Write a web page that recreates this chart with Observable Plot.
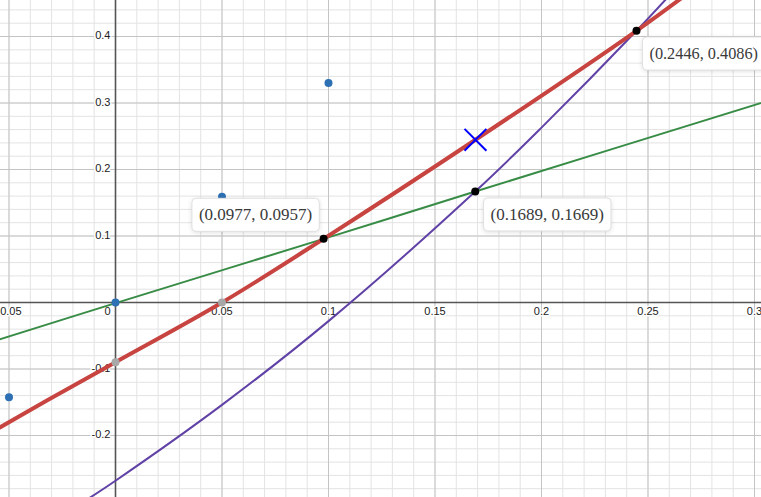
<!DOCTYPE html>
<html><head><meta charset="utf-8">
<script src="https://cdn.jsdelivr.net/npm/d3@7"></script>
<script src="https://cdn.jsdelivr.net/npm/@observablehq/plot@0.6"></script>
<style>
html,body{margin:0;padding:0;background:#fff;overflow:hidden;}
#chart svg{display:block;overflow:hidden !important;}
</style>
</head><body><div id="chart"></div>
<script>
// ---- tick labels ----
const xMajorTicks = [-0.05, 0.05, 0.1, 0.15, 0.2, 0.25, 0.3];
const xTickLabels = ["-0.05", "0.05", "0.1", "0.15", "0.2", "0.25", "0.3"];
const yMajorTicks = [-0.3, -0.2, -0.1, 0.1, 0.2, 0.3, 0.4];
const yTickLabels = ["-0.3", "-0.2", "-0.1", "0.1", "0.2", "0.3", "0.4"];
const originLabel = ["0"];
const xMinorTicks = d3.range(-6, 31).map(i => i / 100);
const yMinorTicks = d3.range(-15, 23).map(i => i / 50);

// ---- curves ----
const greenX = [-0.056, 0, 0.0977, 0.1689, 0.31];
const greenY = [-0.057, -0.001, 0.0957, 0.1669, 0.307];
const redX = [-0.056, -0.032, 0, 0.05, 0.0977, 0.169, 0.2446, 0.27];
const redY = [-0.191, -0.147, -0.0897, 0, 0.0957, 0.2447, 0.4086, 0.468];
const purpleX = [-0.015, 0, 0.05, 0.1, 0.1689, 0.2, 0.2446, 0.265];
const purpleY = [-0.2996, -0.268, -0.154, -0.028, 0.1669, 0.263, 0.4086, 0.479];

// ---- points ----
const blueX = [-0.05, 0, 0.05, 0.1];
const blueY = [-0.1425, 0, 0.159, 0.330];
const grayX = [0, 0.05];
const grayY = [-0.0897, 0];
const interX = [0.0977, 0.1689, 0.2446];
const interY = [0.0957, 0.1669, 0.4086];
const interLabels = ["(0.0977, 0.0957)", "(0.1689, 0.1669)", "(0.2446, 0.4086)"];
const markX = [0.169];
const markY = [0.2447];

const pts = (xs, ys) => xs.map((x, i) => ({x, y: ys[i]}));
const green = pts(greenX, greenY), red = pts(redX, redY), purple = pts(purpleX, purpleY);
const blue = pts(blueX, blueY), gray = pts(grayX, grayY), mark = pts(markX, markY);
const inter = interX.map((x, i) => ({x, y: interY[i], label: interLabels[i]}));
const xt = xMajorTicks.map((x, i) => ({x, label: xTickLabels[i]}));
const yt = yMajorTicks.map((y, i) => ({y, label: yTickLabels[i]}));

const labelFont = {fontFamily: "Liberation Serif, DejaVu Serif, serif", fontSize: 17, fill: "#3a3a3a"};
const tickFont = {fontFamily: "Liberation Sans, Arial, sans-serif", fontSize: 11, fill: "#222", stroke: "white", strokeWidth: 3, paintOrder: "stroke"};

const chart = Plot.plot({
  width: 761, height: 497,
  margin: 0,
  x: {domain: [-0.05399, 0.30329], axis: null},
  y: {domain: [-0.29323, 0.45414], axis: null},
  style: {background: "white"},
  marks: [
    Plot.ruleX(xMinorTicks, {stroke: "#e3e3e3", strokeWidth: 1}),
    Plot.ruleY(yMinorTicks, {stroke: "#e3e3e3", strokeWidth: 1}),
    Plot.ruleX(xMajorTicks, {stroke: "#c4c4c4", strokeWidth: 1}),
    Plot.ruleY(yMajorTicks, {stroke: "#c4c4c4", strokeWidth: 1}),
    Plot.ruleX([0], {stroke: "#555", strokeWidth: 1.6}),
    Plot.ruleY([0], {stroke: "#555", strokeWidth: 1.6}),
    Plot.text(xt, {x: "x", y: () => 0, text: "label", dy: 9, ...tickFont}),
    Plot.text(originLabel, {x: () => 0, y: () => 0, text: d => d, dx: -8, dy: 9, ...tickFont}),
    Plot.text(yt, {x: () => 0, y: "y", text: "label", dx: -5, dy: -1, textAnchor: "end", ...tickFont}),
    Plot.line(green, {x: "x", y: "y", stroke: "#388c46", strokeWidth: 2, curve: "catmull-rom"}),
    Plot.line(purple, {x: "x", y: "y", stroke: "#6042a6", strokeWidth: 2, curve: "catmull-rom"}),
    Plot.line(red, {x: "x", y: "y", stroke: "#c74440", strokeWidth: 4, curve: "catmull-rom"}),
    Plot.dot(blue, {x: "x", y: "y", r: 4, fill: "#2d70b3"}),
    Plot.dot(gray, {x: "x", y: "y", r: 4, fill: "#a8a8a8"}),
    Plot.dot(inter, {x: "x", y: "y", r: 4, fill: "#000"}),
    Plot.dot(mark, {x: "x", y: "y", symbol: "times", r: 10, stroke: "#0000ff", strokeWidth: 2}),
    Plot.text(inter.slice(0, 1), {x: "x", y: "y", text: "label", dx: -68, dy: -24, ...labelFont}),
    Plot.text(inter.slice(1, 2), {x: "x", y: "y", text: "label", dx: 72, dy: 23, ...labelFont}),
    Plot.text(inter.slice(2, 3), {x: "x", y: "y", text: "label", dx: 13, dy: 23, textAnchor: "start", ...labelFont, fontSize: 16.3})
  ]
});
document.getElementById("chart").appendChild(chart);

// white rounded boxes behind the coordinate labels
const labelSet = new Set(interLabels);
const texts = Array.from(chart.querySelectorAll("text")).filter(t => labelSet.has(t.textContent.trim()));
texts.forEach(t => {
  const bb = t.getBBox();
  const rect = document.createElementNS("http://www.w3.org/2000/svg", "rect");
  const tr = t.getAttribute("transform");
  if (tr) rect.setAttribute("transform", tr);
  rect.setAttribute("x", bb.x - 7);
  rect.setAttribute("y", bb.y - 7);
  rect.setAttribute("width", bb.width + 14);
  rect.setAttribute("height", bb.height + 14);
  rect.setAttribute("rx", 4);
  rect.setAttribute("fill", "white");
  rect.setAttribute("stroke", "#e0e0e0");
  rect.setAttribute("stroke-width", 1);
  rect.style.filter = "drop-shadow(0px 1px 2px rgba(0,0,0,0.12))";
  t.parentNode.insertBefore(rect, t);
});
</script>
</body></html>
